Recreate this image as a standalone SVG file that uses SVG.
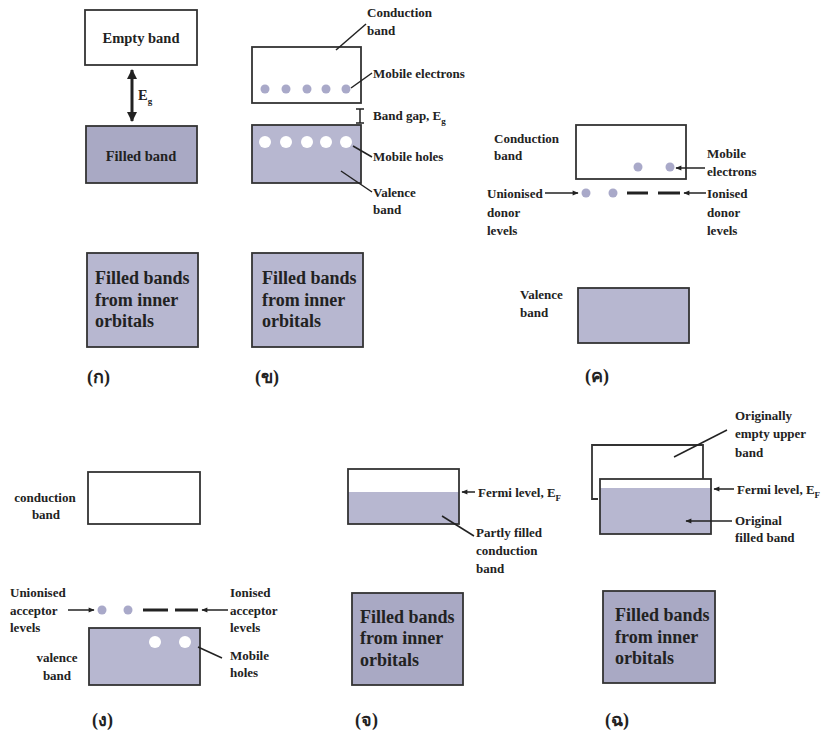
<svg xmlns="http://www.w3.org/2000/svg" width="826" height="732" viewBox="0 0 826 732">
<defs>
<marker id="ah" viewBox="0 0 10 10" refX="9" refY="5" markerWidth="7" markerHeight="6" orient="auto-start-reverse" markerUnits="userSpaceOnUse"><path d="M0,1 L10,5 L0,9 z" fill="#222"/></marker>
<marker id="ahb" viewBox="0 0 10 10" refX="9" refY="5" markerWidth="10" markerHeight="10" orient="auto-start-reverse" markerUnits="userSpaceOnUse"><path d="M0,0 L10,5 L0,10 z" fill="#222"/></marker>
</defs>
<style>
.t{font-family:"Liberation Serif","Times New Roman","DejaVu Serif",serif;font-weight:bold;font-size:13px;fill:#222}
.mid{font-size:14.5px}
.big{font-size:18px}
.sub{font-size:9px}
.lab{font-family:"Liberation Serif","Noto Sans","DejaVu Sans",sans-serif;font-weight:bold;font-size:18px;fill:#222}
.empty{fill:#fff;stroke:#333;stroke-width:1.8}
.fill{fill:#b7b7d0;stroke:#333;stroke-width:1.8}
.dark{fill:#a9a9c4;stroke:#333;stroke-width:1.8}
.ln{stroke:#222;stroke-width:1.5;fill:none}
.dash{stroke:#222;stroke-width:3}
.e{fill:#a9a9c9}
.h{fill:#fff}
</style>
<rect width="826" height="732" fill="#fff"/>

<!-- Panel (ก) -->
<g id="a-empty"><rect class="empty" x="85" y="10" width="112" height="55"/><text class="t mid" x="141" y="43" text-anchor="middle">Empty band</text></g>
<g id="a-filled"><rect class="dark" x="86" y="126" width="111" height="57"/><text class="t mid" x="141" y="161" text-anchor="middle">Filled band</text></g>
<g id="a-inner"><rect class="fill" x="87" y="253" width="111" height="94"/><text class="t big" x="95" y="284">Filled bands</text><text class="t big" x="95" y="306">from inner</text><text class="t big" x="95" y="327">orbitals</text></g>
<g id="a-eg"><text class="t mid" x="138" y="100">E<tspan class="sub" dy="4">g</tspan></text></g>
<text class="lab" x="87" y="383">(ก)</text>

<!-- Panel (ข) -->
<g id="b-cond"><rect class="empty" x="252" y="47" width="109" height="56"/>
<circle class="e" cx="265" cy="89" r="4.5"/><circle class="e" cx="286" cy="89" r="4.5"/><circle class="e" cx="307" cy="89" r="4.5"/><circle class="e" cx="326" cy="89" r="4.5"/><circle class="e" cx="346" cy="89" r="4.5"/></g>
<g id="b-val"><rect class="fill" x="252" y="125" width="109" height="58"/>
<circle class="h" cx="265" cy="142" r="6"/><circle class="h" cx="286" cy="142" r="6"/><circle class="h" cx="307" cy="142" r="6"/><circle class="h" cx="326" cy="142" r="6"/><circle class="h" cx="346" cy="142" r="6"/></g>
<g id="b-inner"><rect class="fill" x="252" y="253" width="111" height="94"/><text class="t big" x="262" y="284">Filled bands</text><text class="t big" x="262" y="306">from inner</text><text class="t big" x="262" y="327">orbitals</text></g>
<g id="b-labels">
<text class="t" x="367" y="17">Conduction</text><text class="t" x="367" y="35">band</text>
<text class="t" x="373" y="78">Mobile electrons</text>
<text class="t" x="373" y="120">Band gap, E<tspan class="sub" dy="4">g</tspan></text>
<text class="t" x="373" y="161">Mobile holes</text>
<text class="t" x="373" y="197">Valence</text><text class="t" x="373" y="214">band</text>
</g>
<text class="lab" x="255" y="383">(ข)</text>

<!-- Panel (ค) -->
<g id="c-cond"><rect class="empty" x="576" y="125" width="110" height="54"/><circle class="e" cx="638" cy="167" r="4.5"/><circle class="e" cx="670" cy="167" r="4.5"/></g>
<g id="c-donor"><circle class="e" cx="586" cy="193" r="4.5"/><circle class="e" cx="613" cy="193" r="4.5"/><line class="dash" x1="627" y1="193" x2="648" y2="193"/><line class="dash" x1="658" y1="193" x2="680" y2="193"/></g>
<g id="c-val"><rect class="fill" x="578" y="288" width="111" height="55"/></g>
<g id="c-labels">
<text class="t" x="494" y="143">Conduction</text><text class="t" x="494" y="160">band</text>
<text class="t" x="707" y="158">Mobile</text><text class="t" x="707" y="176">electrons</text>
<text class="t" x="487" y="198">Unionised</text><text class="t" x="487" y="217">donor</text><text class="t" x="487" y="235">levels</text>
<text class="t" x="707" y="198">Ionised</text><text class="t" x="707" y="217">donor</text><text class="t" x="707" y="235">levels</text>
<text class="t" x="520" y="299">Valence</text><text class="t" x="520" y="317">band</text>
</g>
<text class="lab" x="585" y="382">(ค)</text>

<!-- Panel (ง) -->
<g id="d-cond"><rect class="empty" x="88" y="472" width="112" height="52"/></g>
<g id="d-acc"><circle class="e" cx="102" cy="610" r="4.5"/><circle class="e" cx="128" cy="610" r="4.5"/><line class="dash" x1="143" y1="610" x2="168" y2="610"/><line class="dash" x1="175" y1="610" x2="198" y2="610"/></g>
<g id="d-val"><rect class="fill" x="89" y="628" width="111" height="57"/><circle class="h" cx="155" cy="642" r="6"/><circle class="h" cx="185" cy="642" r="6"/></g>
<g id="d-labels">
<text class="t" x="45" y="502" text-anchor="middle">conduction</text><text class="t" x="46" y="519" text-anchor="middle">band</text>
<text class="t" x="10" y="597">Unionised</text><text class="t" x="10" y="615">acceptor</text><text class="t" x="10" y="632">levels</text>
<text class="t" x="230" y="597">Ionised</text><text class="t" x="230" y="615">acceptor</text><text class="t" x="230" y="632">levels</text>
<text class="t" x="57" y="662" text-anchor="middle">valence</text><text class="t" x="57" y="680" text-anchor="middle">band</text>
<text class="t" x="230" y="660">Mobile</text><text class="t" x="230" y="677">holes</text>
</g>
<text class="lab" x="92" y="726">(ง)</text>

<!-- Panel (จ) -->
<g id="e-cond"><rect x="348" y="469" width="111" height="55" fill="#fff"/><rect x="348" y="492" width="111" height="32" fill="#b7b7d0"/><rect x="348" y="469" width="111" height="55" fill="none" stroke="#333" stroke-width="1.8"/></g>
<g id="e-inner"><rect class="dark" x="352" y="593" width="111" height="92"/><text class="t big" x="360" y="623">Filled bands</text><text class="t big" x="360" y="644">from inner</text><text class="t big" x="360" y="666">orbitals</text></g>
<g id="e-labels">
<text class="t" x="478" y="497">Fermi level, E<tspan class="sub" dy="4">F</tspan></text>
<text class="t" x="476" y="537">Partly filled</text><text class="t" x="476" y="555">conduction</text><text class="t" x="476" y="573">band</text>
</g>
<text class="lab" x="355" y="726">(จ)</text>

<!-- Panel (ฉ) -->
<g id="f-upper"><path d="M598,499 L592,499 L592,445 L703,445 L703,479" fill="none" stroke="#333" stroke-width="1.8"/></g>
<g id="f-band"><rect x="600" y="479" width="111" height="55" fill="#fff"/><rect x="600" y="488" width="111" height="46" fill="#b7b7d0"/><rect x="600" y="479" width="111" height="55" fill="none" stroke="#333" stroke-width="1.8"/></g>
<g id="f-inner"><rect class="dark" x="603" y="591" width="112" height="92"/><text class="t big" x="615" y="621">Filled bands</text><text class="t big" x="615" y="643">from inner</text><text class="t big" x="615" y="664">orbitals</text></g>
<g id="f-labels">
<text class="t" x="735" y="420">Originally</text><text class="t" x="735" y="438">empty upper</text><text class="t" x="735" y="457">band</text>
<text class="t" x="737" y="494">Fermi level, E<tspan class="sub" dy="4">F</tspan></text>
<text class="t" x="735" y="525">Original</text><text class="t" x="735" y="542">filled band</text>
</g>
<text class="lab" x="605" y="726">(ฉ)</text>

<!-- Connectors -->
<g id="connectors">
<line x1="132" y1="70" x2="132" y2="121" stroke="#222" stroke-width="3" marker-start="url(#ahb)" marker-end="url(#ahb)"/>
<line class="ln" x1="366" y1="24" x2="336" y2="50"/>
<line class="ln" x1="372" y1="73" x2="351" y2="88"/>
<path class="ln" d="M356,109 L364,109 M360,109 L360,123 M356,123 L364,123" stroke-width="2.5"/>
<line class="ln" x1="353" y1="146" x2="372" y2="157"/>
<line class="ln" x1="341" y1="171" x2="372" y2="192"/>
<line class="ln" x1="705" y1="168" x2="676" y2="168" marker-end="url(#ah)"/>
<line class="ln" x1="545" y1="193" x2="578" y2="193" marker-end="url(#ah)"/>
<line class="ln" x1="706" y1="193" x2="684" y2="193" marker-end="url(#ah)"/>
<line class="ln" x1="68" y1="610" x2="94" y2="610" marker-end="url(#ah)"/>
<line class="ln" x1="228" y1="610" x2="202" y2="610" marker-end="url(#ah)"/>
<line class="ln" x1="198" y1="647" x2="222" y2="658"/>
<line class="ln" x1="475" y1="492" x2="462" y2="492" marker-end="url(#ah)"/>
<line class="ln" x1="442" y1="516" x2="474" y2="536"/>
<line class="ln" x1="674" y1="457" x2="727" y2="430"/>
<line class="ln" x1="734" y1="489" x2="714" y2="489" marker-end="url(#ah)"/>
<line class="ln" x1="732" y1="521" x2="686" y2="521" marker-end="url(#ah)"/>
</g>
</svg>
